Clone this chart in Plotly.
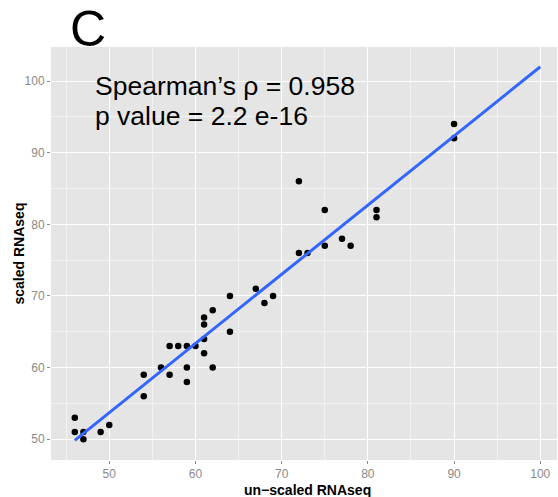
import numpy as np
import plotly.graph_objects as go

# RNAseq expression: un-scaled vs scaled values per gene
unscaled = [46, 46, 47, 47, 49, 50, 54, 54, 56, 57, 57, 58, 59, 59, 59, 60,
            61, 61, 61, 61, 62, 62, 64, 64, 67, 68, 69, 72, 72, 73, 75, 75,
            77, 78, 81, 81, 90, 90]
scaled = [53, 51, 51, 50, 51, 52, 59, 56, 60, 63, 59, 63, 63, 60, 58, 63,
          67, 66, 64, 62, 68, 60, 70, 65, 71, 69, 70, 86, 76, 76, 82, 77,
          78, 77, 82, 81, 94, 92]

# span over which the least-squares line is drawn
fit_span = [46, 100]

tick_vals = [50, 60, 70, 80, 90, 100]
stat_lines = ["Spearman\u2019s \u03c1 = 0.958", "p value = 2.2 e-16"]
panel_label = "C"
x_title = "un\u2212scaled RNAseq"
y_title = "scaled RNAseq"

slope, intercept = np.polyfit(unscaled, scaled, 1)
fit_x = np.array(fit_span, dtype=float)
fit_y = slope * fit_x + intercept

W, H = 558, 497
L, R, T, B = 51, 1, 47, 37
pw, ph = W - L - R, H - T - B


def px_x(p):
    return (p - L) / pw


def px_y(p):
    return (H - B - p) / ph


FONT = "Liberation Sans, Arial, Helvetica, sans-serif"
GREY = "#8a8a8a"

fig = go.Figure()
fig.add_trace(go.Scatter(
    x=unscaled, y=scaled, mode="markers",
    marker=dict(color="black", size=6.5, line=dict(width=0)),
    hoverinfo="x+y", showlegend=False,
))
fig.add_trace(go.Scatter(
    x=fit_x, y=fit_y, mode="lines",
    line=dict(color="#3366FF", width=3),
    hoverinfo="skip", showlegend=False,
))

axis_common = dict(
    tickvals=tick_vals,
    showgrid=True, gridcolor="white", gridwidth=1.2,
    zeroline=False, showline=False,
    ticks="outside", ticklen=3, tickwidth=1, tickcolor=GREY,
    tickfont=dict(family=FONT, size=12, color=GREY),
    minor=dict(dtick=5, tick0=45, showgrid=True, gridcolor="#F2F2F2",
               gridwidth=0.6, ticks=""),
)

fig.update_layout(
    width=W, height=H,
    margin=dict(l=L, r=R, t=T, b=B, pad=0),
    paper_bgcolor="white", plot_bgcolor="#E5E5E5",
    font=dict(family=FONT),
    xaxis=dict(range=[43.24, 101.94], **axis_common),
    yaxis=dict(range=[47.1, 104.75], **axis_common),
    annotations=[
        dict(text=stat_lines[0], xref="paper", yref="paper",
             x=px_x(92.5), y=px_y(86), xanchor="left", yanchor="middle",
             showarrow=False, font=dict(family=FONT, size=26.5, color="black")),
        dict(text=stat_lines[1], xref="paper", yref="paper",
             x=px_x(92.5), y=px_y(116), xanchor="left", yanchor="middle",
             showarrow=False, font=dict(family=FONT, size=26.5, color="black")),
        dict(text=panel_label, xref="paper", yref="paper",
             x=px_x(88), y=px_y(28.5), xanchor="center", yanchor="middle",
             showarrow=False, font=dict(family=FONT, size=50, color="black")),
        dict(text="<b>" + x_title + "</b>", xref="paper", yref="paper",
             x=px_x(307), y=px_y(489.5), xanchor="center", yanchor="middle",
             showarrow=False, font=dict(family=FONT, size=14, color="black")),
        dict(text="<b>" + y_title + "</b>", xref="paper", yref="paper",
             x=px_x(18), y=0.5, xanchor="center", yanchor="middle",
             textangle=-90, showarrow=False,
             font=dict(family=FONT, size=14, color="black")),
    ],
)

fig.write_html("out.html")
